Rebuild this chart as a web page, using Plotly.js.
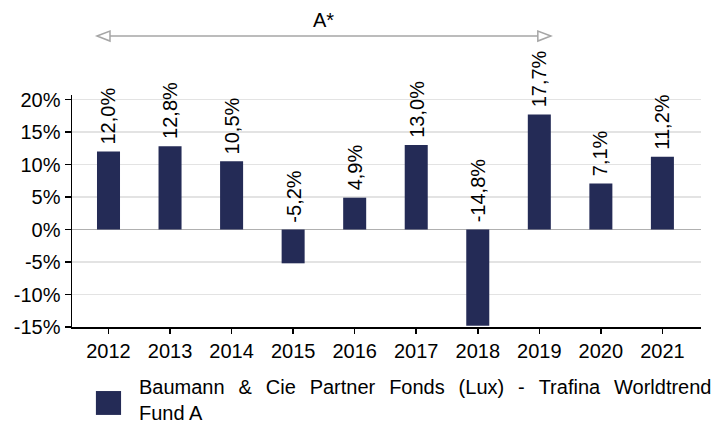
<!DOCTYPE html>
<html>
<head>
<meta charset="utf-8">
<script src="https://cdn.plot.ly/plotly-3.0.1.min.js"></script>
<style>
html,body{margin:0;padding:0;background:#fff;}
#chart{width:713px;height:426px;}
</style>
</head>
<body>
<div id="chart"></div>
<script>
// ---- data ----
const years = ['2012','2013','2014','2015','2016','2017','2018','2019','2020','2021'];
const returns = [12.0, 12.8, 10.5, -5.2, 4.9, 13.0, -14.8, 17.7, 7.1, 11.2];
const valueLabels = ['12,0%','12,8%','10,5%','-5,2%','4,9%','13,0%','-14,8%','17,7%','7,1%','11,2%'];
const yTickVals = [-15, -10, -5, 0, 5, 10, 15, 20];
const yTickText = ['-15%','-10%','-5%','0%','5%','10%','15%','20%'];
const seriesName = 'Baumann & Cie Partner Fonds (Lux) - Trafina Worldtrend Fund A';
const periodLabel = 'A*';
const periodStart = '2012';
const periodEnd = '2019';

// ---- style ----
const barColor = '#242b56';
const font = 'Arial, "Liberation Sans", sans-serif';
const fs = 20;
const bargap = 0.626;
const half = (1 - bargap) / 2;

const trace = {
  type: 'bar',
  x: years,
  y: returns,
  marker: {color: barColor},
  name: seriesName,
  showlegend: false,
  hoverinfo: 'none'
};

const annotations = years.map((yr, i) => ({
  x: i, y: Math.max(returns[i], 0), xref: 'x', yref: 'y',
  text: valueLabels[i], textangle: -90,
  showarrow: false, yanchor: 'bottom', xanchor: 'center', yshift: 5,
  font: {family: font, size: fs, color: '#000'}
}));

const i0 = years.indexOf(periodStart) - half;
const i1 = years.indexOf(periodEnd) + half;
const arrowY = 1.254;
annotations.push({
  x: (i0 + i1) / 2, y: arrowY, xref: 'x', yref: 'paper',
  yanchor: 'bottom', yshift: 3,
  text: periodLabel, showarrow: false,
  font: {family: font, size: fs, color: '#000'}
});

// legend (custom, large swatch)
const legendWords = seriesName.split(' ');
const gap = ' \u2004\u200a';
const line1 = legendWords.slice(0, 9).join(gap);
const line2 = legendWords.slice(9).join(' ');
annotations.push({
  x: 0.103, y: -0.316, xref: 'paper', yref: 'paper',
  xanchor: 'left', yanchor: 'middle', align: 'left',
  text: line1 + '<br>' + line2, showarrow: false,
  font: {family: font, size: fs, color: '#000'}
});

const gray = '#a6a6a6';
const shapes = [
  {type: 'line', xref: 'x', yref: 'paper', x0: i0, x1: i1, y0: arrowY, y1: arrowY,
   line: {color: gray, width: 1.5}},
  {type: 'path', xref: 'x', yref: 'paper', xsizemode: 'pixel', ysizemode: 'pixel',
   xanchor: i0, yanchor: arrowY, path: 'M 0 0 L 13 5 L 13 -5 Z',
   fillcolor: '#fff', line: {color: gray, width: 1.5}},
  {type: 'path', xref: 'x', yref: 'paper', xsizemode: 'pixel', ysizemode: 'pixel',
   xanchor: i1, yanchor: arrowY, path: 'M 0 0 L -13 5 L -13 -5 Z',
   fillcolor: '#fff', line: {color: gray, width: 1.5}},
  {type: 'rect', xref: 'paper', yref: 'paper', x0: 0.038, x1: 0.078, y0: -0.379, y1: -0.276,
   fillcolor: barColor, line: {width: 0}}
];

const layout = {
  width: 713, height: 426,
  margin: {l: 72, r: 12, t: 95, b: 99},
  paper_bgcolor: '#fff', plot_bgcolor: '#fff',
  font: {family: font, size: fs, color: '#000'},
  bargap: bargap,
  showlegend: false,
  xaxis: {
    type: 'category', range: [-0.593, 9.627],
    showline: true, linecolor: '#000', linewidth: 1.5,
    ticks: 'outside', ticklen: 5, tickcolor: '#000', tickwidth: 1.5,
    showgrid: false, zeroline: false,
    tickfont: {family: font, size: fs, color: '#000'}
  },
  yaxis: {
    range: [-15, 20.7],
    tickvals: yTickVals, ticktext: yTickText,
    showline: true, linecolor: '#000', linewidth: 1.5,
    ticks: 'outside', ticklen: 6, tickcolor: '#000', tickwidth: 1.5,
    showgrid: true, gridcolor: '#e3e3e3', gridwidth: 1.5,
    zeroline: true, zerolinecolor: '#b0b0b0', zerolinewidth: 1.5,
    tickfont: {family: font, size: fs, color: '#000'}
  },
  annotations: annotations,
  shapes: shapes
};

Plotly.newPlot('chart', [trace], layout, {displayModeBar: false, staticPlot: true});
</script>
</body>
</html>
